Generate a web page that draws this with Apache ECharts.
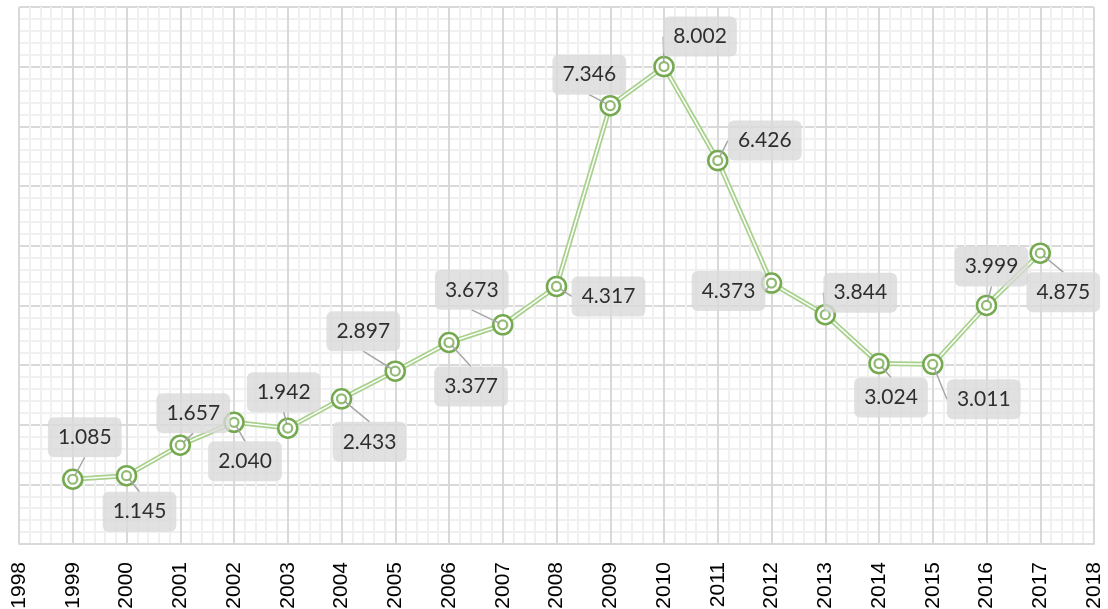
<!DOCTYPE html>
<html>
<head>
<meta charset="utf-8">
<script src="https://cdn.jsdelivr.net/npm/echarts@6/dist/echarts.min.js"></script>
<style>
  html, body { margin: 0; padding: 0; background: #fff; }
  #chart { width: 1108px; height: 609px; }
</style>
</head>
<body>
<div id="chart"></div>
<script>
// 年份与数值
const years = [1999, 2000, 2001, 2002, 2003, 2004, 2005, 2006, 2007, 2008, 2009, 2010, 2011, 2012, 2013, 2014, 2015, 2016, 2017]
const values = [1.085, 1.145, 1.657, 2.040, 1.942, 2.433, 2.897, 3.377, 3.673, 4.317, 7.346, 8.002, 6.426, 4.373, 3.844, 3.024, 3.011, 3.999, 4.875]

// 标签相对数据点的偏移（像素）
const labelOffsets = [
    [12, -42], [13, 36], [13, -32], [11, 39], [-4, -36],
    [28, 43], [-32, -40], [22, 44], [-31, -35], [52, 10],
    [-21, -31], [36, -30], [47, -20], [-43, 8], [35, -22],
    [12, 34], [51, 35], [5, -39], [23, 39]
]

const fontFamily = 'Lato, "Open Sans", sans-serif'
const lineColor = '#a9d18e'
const markColor = '#74a94f'
const points = years.map((y, i) => [y, values[i]])

const chart = echarts.init(document.getElementById('chart'))

const option = {
    animation: false,
    grid: {
        left: 19,
        right: 14,
        top: 7,
        bottom: 65,
        containLabel: false,
        outerBoundsMode: 'none'
    },
    xAxis: {
        type: 'value',
        min: 1998,
        max: 2018,
        interval: 1,
        axisLine: { show: true, lineStyle: { color: '#d9d9d9', width: 2 } },
        axisTick: { show: false },
        axisLabel: {
            rotate: 90,
            margin: 18,
            fontSize: 21,
            fontFamily: '"Liberation Sans", Arial, sans-serif',
            color: '#000',
            formatter: v => String(v)
        },
        splitLine: { show: true, lineStyle: { color: '#d9d9d9', width: 2 } },
        minorTick: { show: false, splitNumber: 5 },
        minorSplitLine: { show: true, lineStyle: { color: '#f0f0f0', width: 2 } }
    },
    yAxis: {
        type: 'value',
        min: 0,
        max: 9,
        interval: 1,
        axisLine: { show: false },
        axisTick: { show: false },
        axisLabel: { show: false },
        splitLine: { show: true, lineStyle: { color: '#d9d9d9', width: 2 } },
        minorTick: { show: false, splitNumber: 5 },
        minorSplitLine: { show: true, lineStyle: { color: '#f0f0f0', width: 2 } }
    },
    series: [
        {
            // 外层浅绿线
            type: 'line',
            data: points,
            symbol: 'none',
            lineStyle: { color: lineColor, width: 5 },
            z: 2
        },
        {
            // 中间白线 + 外圈标记
            type: 'line',
            data: points,
            symbol: 'circle',
            symbolSize: 19,
            lineStyle: { color: '#ffffff', width: 1.5 },
            itemStyle: { color: '#ffffff', borderColor: markColor, borderWidth: 2.5 },
            z: 3
        },
        {
            // 内圈标记 + 数据标签
            type: 'scatter',
            data: points,
            symbol: 'circle',
            symbolSize: 9,
            itemStyle: { color: '#ffffff', borderColor: markColor, borderWidth: 2.2 },
            z: 4,
            label: {
                show: true,
                position: 'top',
                formatter: p => p.value[1].toFixed(3),
                fontSize: 21,
                fontFamily: fontFamily,
                color: '#000',
                backgroundColor: '#d9d9d9',
                padding: [10, 10, 9, 10],
                borderRadius: 6
            },
            labelLine: {
                show: true,
                lineStyle: { color: '#a6a6a6', width: 1.5 }
            },
            labelLayout: function (params) {
                const off = labelOffsets[params.dataIndex]
                const cx = params.rect.x + params.rect.width / 2
                const cy = params.rect.y + params.rect.height / 2
                return {
                    x: cx + off[0],
                    y: cy + off[1],
                    align: 'center',
                    verticalAlign: 'middle'
                }
            }
        }
    ]
}

chart.setOption(option)
</script>
</body>
</html>
